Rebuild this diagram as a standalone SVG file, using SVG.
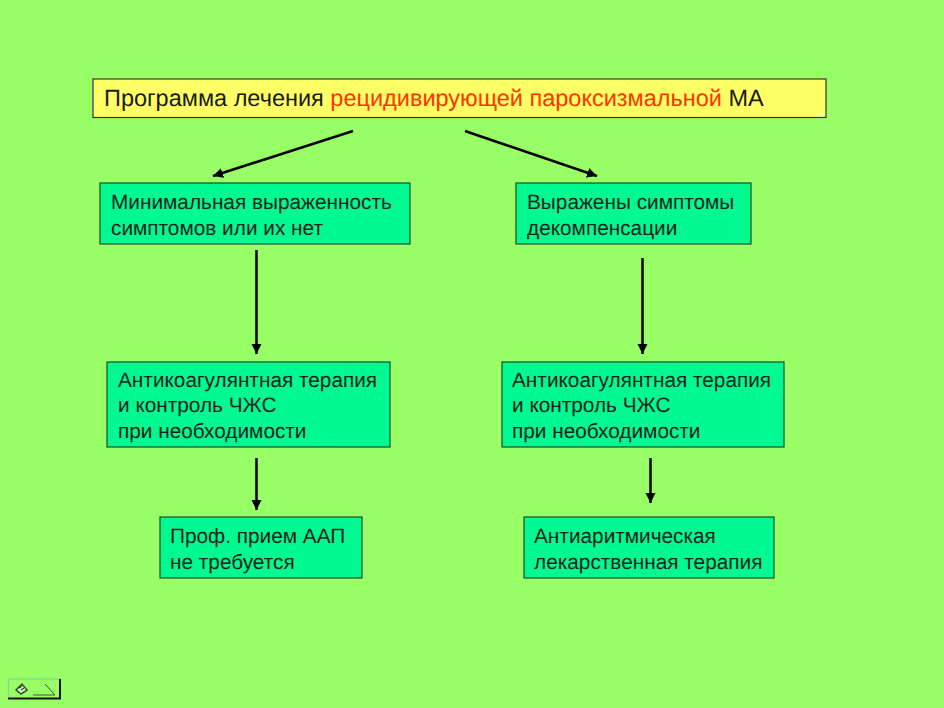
<svg xmlns="http://www.w3.org/2000/svg" width="944" height="708" viewBox="0 0 944 708">
<defs><marker id="a" markerUnits="userSpaceOnUse" markerWidth="12" markerHeight="12" refX="10" refY="5" orient="auto"><path d="M0 0L10 5L0 10z" fill="#000"/></marker></defs>
<style>.n{fill:#00f990;stroke:#1c4a2c;stroke-width:1.200}.t{font:20.800px "Liberation Sans",Arial,sans-serif;fill:#14241c;text-rendering:geometricPrecision}.c{stroke:#000;stroke-width:2.500;fill:none;marker-end:url(#a)}</style>
<rect width="944" height="708" fill="#99ff66"/>
<g id="title"><rect x="93" y="79" width="733" height="38.500" fill="#ffff66" stroke="#333" stroke-width="1.200"/><text x="104" y="106" style="font:23.500px 'Liberation Sans',Arial,sans-serif;text-rendering:geometricPrecision" fill="#1a1a0a">Программа лечения <tspan fill="#ff3300">рецидивирующей пароксизмальной</tspan> МА</text></g>
<g id="connectors">
<line class="c" x1="353" y1="131" x2="213" y2="176"/>
<line class="c" x1="465" y1="131" x2="597" y2="176"/>
<line class="c" x1="256.500" y1="250" x2="256.500" y2="354"/>
<line class="c" x1="642.500" y1="258" x2="642.500" y2="354"/>
<line class="c" x1="256.500" y1="458" x2="256.500" y2="510"/>
<line class="c" x1="650.500" y1="458" x2="650.500" y2="503"/>
</g>
<g id="n1"><rect class="n" x="100" y="183" width="310" height="61"/><text class="t" x="111" y="209">Минимальная выраженность</text><text class="t" x="111" y="235">симптомов или их нет</text></g>
<g id="n2"><rect class="n" x="516" y="183" width="235" height="61"/><text class="t" x="527" y="209">Выражены симптомы</text><text class="t" x="527" y="235">декомпенсации</text></g>
<g id="n3"><rect class="n" x="107" y="362" width="283" height="85"/><text class="t" x="118" y="387">Антикоагулянтная терапия</text><text class="t" x="118" y="412">и контроль ЧЖС</text><text class="t" x="118" y="438">при необходимости</text></g>
<g id="n4"><rect class="n" x="502" y="362" width="282" height="85"/><text class="t" x="512" y="387">Антикоагулянтная терапия</text><text class="t" x="512" y="412">и контроль ЧЖС</text><text class="t" x="512" y="438">при необходимости</text></g>
<g id="n5"><rect class="n" x="160" y="517" width="202" height="61"/><text class="t" x="170" y="543">Проф. прием ААП</text><text class="t" x="170" y="569">не требуется</text></g>
<g id="n6"><rect class="n" x="524" y="517" width="250" height="61"/><text class="t" x="534" y="543">Антиаритмическая</text><text class="t" x="534" y="569">лекарственная терапия</text></g>
<g id="nav"><path d="M8.500 698V679H60" fill="none" stroke="#8fd98f" stroke-width="1.500"/><path d="M60 679V698.500H8" fill="none" stroke="#111" stroke-width="2"/><path d="M33 695H55L45 684" fill="none" stroke="#3a5a3a"/><path d="M16 690L22 684L27 690L21 694z" fill="#cfeec0" stroke="#2a4a2a" stroke-width="1.500"/><path d="M19 688L22 686M21 690L24 688" stroke="#111"/></g>
</svg>
